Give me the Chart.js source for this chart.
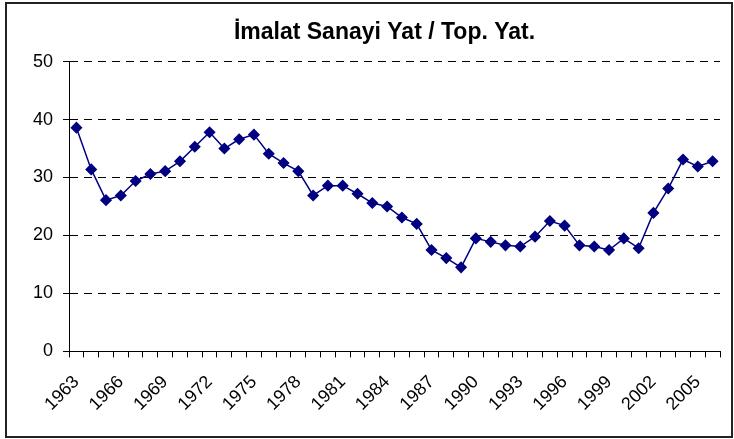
<!DOCTYPE html>
<html>
<head>
<meta charset="utf-8">
<script src="https://cdn.jsdelivr.net/npm/chart.js@4.4.0/dist/chart.umd.min.js"></script>
<style>
  html, body { margin: 0; padding: 0; background: #fff; }
  #box { position: absolute; left: 5px; top: 2px; width: 724px; height: 432px; border: 2px solid #222; }
  canvas { display: block; }
</style>
</head>
<body>
<div id="box"><canvas id="chart" width="724" height="432"></canvas></div>
<script>
// years 1963 - 2006
var years = ["1963","1964","1965","1966","1967","1968","1969","1970","1971","1972",
  "1973","1974","1975","1976","1977","1978","1979","1980","1981","1982",
  "1983","1984","1985","1986","1987","1988","1989","1990","1991","1992",
  "1993","1994","1995","1996","1997","1998","1999","2000","2001","2002",
  "2003","2004","2005","2006"];

// imalat sanayi yatirimi / toplam yatirim (%)
var shares = [38.6, 31.4, 26.1, 26.9, 29.4, 30.6, 31.1, 32.8, 35.3, 37.8,
  35.0, 36.6, 37.4, 34.1, 32.5, 31.1, 26.9, 28.6, 28.6, 27.2,
  25.6, 25.0, 23.1, 22.0, 17.5, 16.1, 14.5, 19.5, 18.9, 18.3,
  18.1, 19.8, 22.5, 21.7, 18.3, 18.1, 17.5, 19.5, 17.8, 23.9,
  28.1, 33.1, 31.9, 32.8];

var yTicks = [0, 10, 20, 30, 40, 50];

var fontFam = "'Liberation Sans', Arial, sans-serif";

// nudge the title a bit to the right, like the original
var titleShift = {
  id: "titleShift",
  afterLayout: function(chart) {
    var t = chart.titleBlock;
    if (t) { t.left += 13; t.right += 13; }
  }
};

new Chart(document.getElementById("chart"), {
  type: "line",
  data: {
    labels: years,
    datasets: [{
      label: "İmalat Sanayi Yat / Top. Yat.",
      data: shares,
      borderColor: "#000080",
      backgroundColor: "#000080",
      borderWidth: 1.5,
      pointStyle: "rectRot",
      pointRadius: 5,
      pointHoverRadius: 5,
      tension: 0
    }]
  },
  plugins: [titleShift],
  options: {
    responsive: false,
    animation: false,
    devicePixelRatio: 1,
    layout: { padding: { left: 16, right: 11, top: 8, bottom: 7 } },
    plugins: {
      legend: { display: false },
      tooltip: { enabled: false },
      title: {
        display: true,
        text: "İmalat Sanayi Yat / Top. Yat.",
        color: "#000",
        font: { family: fontFam, size: 23, weight: "bold" },
        padding: { top: 7, bottom: 15 }
      }
    },
    scales: {
      x: {
        offset: true,
        afterFit: function(scale) {
          // labels may hang past the ends, keep plot edges fixed
          scale.paddingLeft = 0;
          scale.paddingRight = 0;
        },
        grid: {
          offset: true,
          drawOnChartArea: false,
          drawTicks: true,
          tickLength: 6,
          tickColor: "#000",
          lineWidth: 1
        },
        border: { color: "#000", width: 1 },
        ticks: {
          autoSkip: false,
          maxRotation: 45,
          minRotation: 45,
          color: "#000",
          padding: 14,
          font: { family: fontFam, size: 18 },
          callback: function(val, i) { return i % 3 === 0 ? years[i] : ""; }
        }
      },
      y: {
        min: yTicks[0],
        max: yTicks[yTicks.length - 1],
        afterBuildTicks: function(axis) {
          axis.ticks = yTicks.map(function(v) { return { value: v }; });
        },
        grid: {
          color: "#000",
          lineWidth: 1,
          tickLength: 6,
          tickColor: "#000",
          tickBorderDash: []
        },
        border: { color: "#000", width: 1, dash: [8, 6] },
        ticks: {
          color: "#000",
          padding: 10,
          font: { family: fontFam, size: 18 }
        }
      }
    }
  }
});
</script>
</body>
</html>
